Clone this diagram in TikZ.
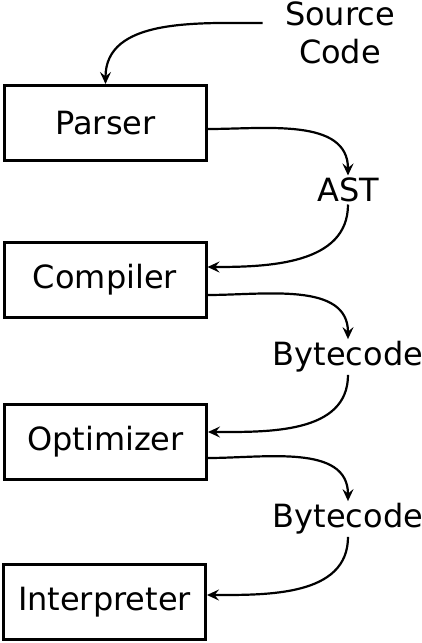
\documentclass[tikz,border=0pt]{standalone}
\usepackage{fontspec}
\setmainfont{DejaVu Sans}
\usetikzlibrary{arrows.meta}
\tikzstyle{stage}=[draw=black,line width=1.5pt,minimum width=101pt,minimum height=37.5pt]
\tikzstyle{data}=[inner sep=1pt,align=center]
\tikzstyle{flow}=[line width=1.1pt,-{Stealth[length=6pt,width=5.5pt,inset=2.2pt]}]

\begin{document}
\begin{tikzpicture}[x=0.5pt,y=-0.5pt,font=\fontsize{16}{19}\selectfont]
      \useasboundingbox (0,0) rectangle (422,643);
      % stages
      \node[stage] (parser) at (105.5,123) {Parser};
      \node[stage] (compiler) at (105,280) {Compiler};
      \node[stage] (optimizer) at (105.5,442) {Optimizer};
      \node[stage] (interpreter) at (104.5,602) {Interpreter};
      % data between stages
      \node[data] (src) at (340,33) {Source\\Code};
      \node[data] (ast) at (348,190) {AST};
      \node[data] (bc1) at (348,357) {Bytecode};
      \node[data] (bc2) at (348,519) {Bytecode};
      % connectors
      \draw[flow] ([xshift=-10pt,yshift=5pt]src.west) to[out=180,in=90] (parser.north);
      \draw[flow] ([yshift=-3pt]parser.east) to[out=0,in=90] (ast.north);
      \draw[flow] (ast.south) to[out=-90,in=0] ([yshift=6.5pt]compiler.east);
      \draw[flow] ([yshift=-7.5pt]compiler.east) to[out=0,in=90] (bc1.north);
      \draw[flow] (bc1.south) to[out=-90,in=0] ([yshift=5pt]optimizer.east);
      \draw[flow] ([yshift=-8pt]optimizer.east) to[out=0,in=90] (bc2.north);
      \draw[flow] (bc2.south) to[out=-90,in=0] ([yshift=3.5pt]interpreter.east);
    \end{tikzpicture}
\end{document}
